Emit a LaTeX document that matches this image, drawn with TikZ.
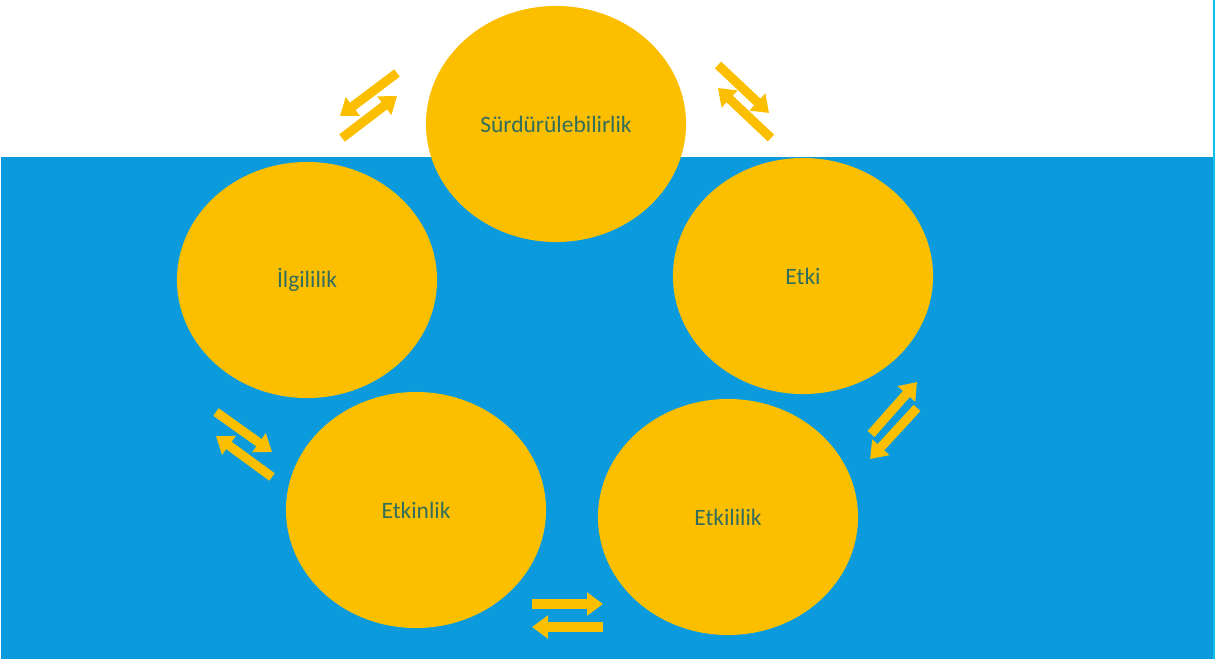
\documentclass[tikz,border=0pt]{standalone}
\usepackage{fontspec}
\setmainfont{Carlito}
\usetikzlibrary{shapes.geometric,arrows.meta}
\definecolor{sea}{RGB}{11,155,221}
\definecolor{sun}{RGB}{252,191,0}
\definecolor{ink}{RGB}{50,110,92}

\begin{document}
\begin{tikzpicture}[x=0.025cm,y=-0.025cm,
  circ/.style={ellipse,fill=sun,minimum width=6.5cm,minimum height=5.9cm,inner sep=0pt,
    text=ink,font=\fontsize{16.7}{20}\selectfont},
  pil/.style={line width=0.23cm,sun,-{Triangle[width=0.56cm,length=0.4cm]}}]
  \useasboundingbox (0,0) rectangle (1215,659);
  \fill[white] (0,0) rectangle (1215,659);
  \fill[sea] (1,157) rectangle (1213,659);
  \draw[sea!60!cyan,line width=0.05cm] (1214,0) -- (1214,659);
  % circles
  \node[circ] (sur) at (556,124) {Sürdürülebilirlik};
  \node[circ] (ilg) at (307,280) {İlgililik};
  \node[circ] (etk) at (803,276) {Etki};
  \node[circ] (etn) at (416,510) {Etkinlik};
  \node[circ] (etl) at (728,517) {Etkililik};
  % arrows
  \coordinate (a1) at (397,73);  \coordinate (b1) at (340,116);
  \coordinate (a2) at (342,138); \coordinate (b2) at (397,96);
  \coordinate (a3) at (718,65);  \coordinate (b3) at (769,113);
  \coordinate (a4) at (771,138); \coordinate (b4) at (718,88);
  \coordinate (a5) at (871,434); \coordinate (b5) at (917,382);
  \coordinate (a6) at (917,408); \coordinate (b6) at (870,459);
  \coordinate (a7) at (216,412); \coordinate (b7) at (272,452);
  \coordinate (a8) at (272,477); \coordinate (b8) at (216,436);
  \coordinate (a9) at (532,604); \coordinate (b9) at (603,604);
  \coordinate (a10) at (603,627); \coordinate (b10) at (532,627);
  \foreach \i in {1,...,10}
    \draw[pil] (a\i) -- (b\i);
\end{tikzpicture}
\end{document}
